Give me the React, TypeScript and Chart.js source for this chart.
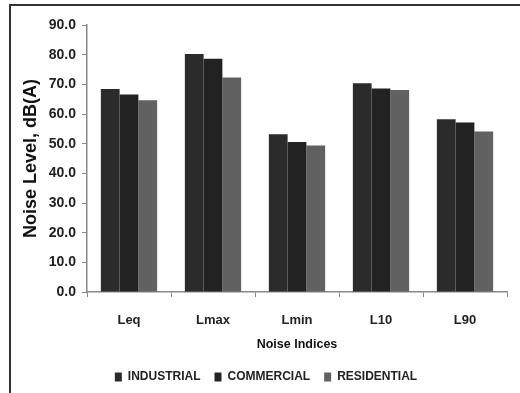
import React, { useEffect, useRef } from "react";
import { Chart, registerables } from "chart.js";

Chart.register(...registerables);

const categories = ["Leq", "Lmax", "Lmin", "L10", "L90"];
const industrial = [68.4, 80.2, 53.2, 70.4, 58.2];
const commercial = [66.6, 78.6, 50.6, 68.6, 57.1];
const residential = [64.6, 72.3, 49.4, 68.1, 54.1];
const seriesNames = ["INDUSTRIAL", "COMMERCIAL", "RESIDENTIAL"];
const yTitle = "Noise Level, dB(A)";
const xTitle = "Noise Indices";

const FONT = "'Liberation Sans', Arial, sans-serif";

const shiftLegend = {
  id: "shiftLegend",
  afterLayout(chart: any) {
    if (chart.legend) {
      chart.legend.left += 8;
      chart.legend.right += 8;
    }
  },
};

export default function App() {
  const ref = useRef<HTMLCanvasElement>(null);
  useEffect(() => {
    if (!ref.current) return;
    const chart = new Chart(ref.current, {
      type: "bar",
      data: {
        labels: categories,
        datasets: [
          { label: seriesNames[0], data: industrial, backgroundColor: "#2b2b2b", borderWidth: 0 },
          { label: seriesNames[1], data: commercial, backgroundColor: "#222222", borderWidth: 0 },
          { label: seriesNames[2], data: residential, backgroundColor: "#616161", borderWidth: 0 },
        ],
      },
      plugins: [shiftLegend],
      options: {
        animation: false,
        responsive: false,
        maintainAspectRatio: false,
        layout: { padding: { left: 9, right: 13, top: 25, bottom: 0 } },
        datasets: { bar: { categoryPercentage: 0.67, barPercentage: 1.0 } },
        plugins: {
          tooltip: { enabled: false },
          legend: {
            position: "bottom",
            labels: {
              boxWidth: 7,
              boxHeight: 9,
              padding: 14,
              color: "#222",
              font: { family: FONT, size: 12, weight: "bold" },
            },
          },
        },
        scales: {
          x: {
            afterFit: (s: any) => { s.height = 65; },
            grid: { display: true, drawOnChartArea: false, drawTicks: true, tickLength: 5, color: "#888", offset: true },
            border: { display: true, color: "#888", width: 1.5 },
            ticks: { color: "#222", padding: 16, font: { family: FONT, size: 13, weight: "bold" } },
            title: { display: true, text: xTitle, color: "#111", padding: { top: 0, bottom: 4.5 }, font: { family: FONT, size: 12.5, weight: "bold" } },
          },
          y: {
            min: 0,
            max: 90,
            afterFit: (s: any) => { s.width = 78; },
            grid: { display: true, drawOnChartArea: false, drawTicks: true, tickLength: 5, color: "#888" },
            border: { display: true, color: "#888", width: 1.5 },
            ticks: {
              stepSize: 10,
              color: "#222",
              padding: 6,
              font: { family: FONT, size: 14, weight: "bold" },
              callback: (v: any) => Number(v).toFixed(1),
            },
            title: { display: true, text: yTitle, color: "#111", padding: { top: 11, bottom: 0 }, font: { family: FONT, size: 18, weight: "bold" } },
          },
        },
      },
    });
    return () => chart.destroy();
  }, []);
  return (
    <div style={{ position: "absolute", left: 0, top: 0, width: 520, height: 393, overflow: "hidden", background: "#fff" }}>
      <div style={{ position: "absolute", left: 9, top: 4, width: 520, height: 400, borderTop: "2px solid #333", borderLeft: "2px solid #333" }} />
      <canvas ref={ref} width={520} height={393} style={{ position: "absolute", left: 0, top: 0 }} />
    </div>
  );
}
